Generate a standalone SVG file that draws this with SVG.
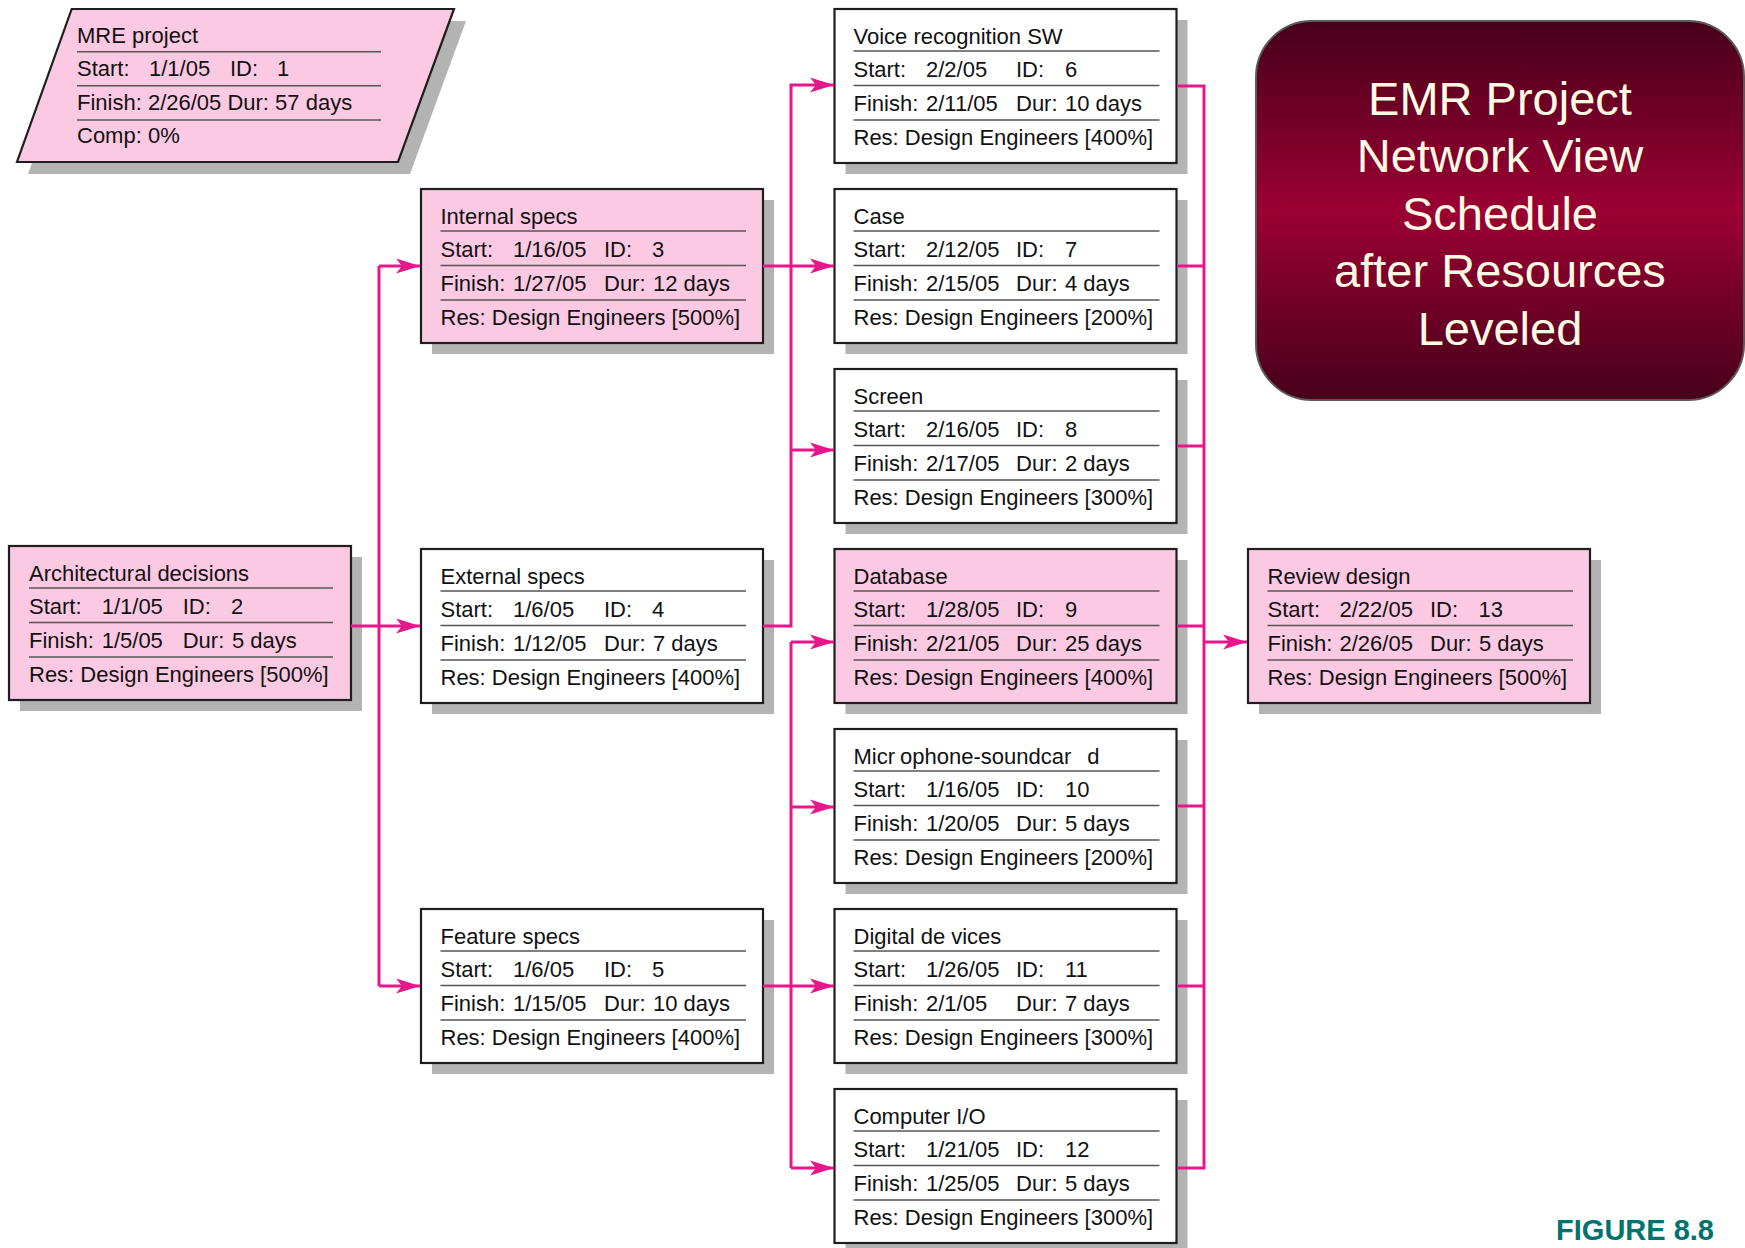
<svg xmlns="http://www.w3.org/2000/svg" width="1745" height="1248" viewBox="0 0 1745 1248">
<style>
.sh{fill:#b3b3b3}
.bx{stroke:#1e1e1e;stroke-width:2.2}
.pk{fill:#fcc9e3}
.wh{fill:#ffffff}
.sp{fill:none;stroke:#555555;stroke-width:1.6}
.t{font-family:"Liberation Sans",Arial,sans-serif;font-size:22px;fill:#111111}
.cn{fill:none;stroke:#e8168a;stroke-width:3}
.ar{fill:none;stroke:#e8168a;stroke-width:3;marker-end:url(#ah)}
.tt{font-family:"Liberation Sans",Arial,sans-serif;font-size:47px;fill:#fffbe3;text-anchor:middle}
.fg{font-family:"Liberation Sans",Arial,sans-serif;font-size:29px;font-weight:bold;fill:#00736f;text-anchor:end}
</style>
<defs>
<marker id="ah" markerWidth="26" markerHeight="18" refX="25" refY="9" orient="auto" markerUnits="userSpaceOnUse">
<path d="M25,9 L1,1.5 L7,9 L1,16.5 Z" fill="#e8168a"/>
</marker>
<linearGradient id="tg" x1="0" y1="0" x2="0" y2="1">
<stop offset="0" stop-color="#47001a"/>
<stop offset="0.5" stop-color="#9b0033"/>
<stop offset="1" stop-color="#47001a"/>
</linearGradient>
</defs>
<rect width="1745" height="1248" fill="#ffffff"/>

<g id="n1">
<polygon class="sh" points="83.7,21 466,21 410,174 28,174"/>
<polygon class="bx pk" points="71.7,9 454,9 398,162 17,162"/>
<path class="sp" d="M77,51.7H381M77,85.7H381M77,120H381"/>
<text class="t" x="77" y="43">MRE project</text>
<text class="t" y="76"><tspan x="77">Start:</tspan><tspan x="149">1/1/05</tspan><tspan x="230">ID:</tspan><tspan x="277">1</tspan></text>
<text class="t" x="77" y="110">Finish: 2/26/05 Dur: 57 days</text>
<text class="t" x="77" y="143">Comp: 0%</text>
</g>

<g id="n2" transform="translate(9,546)">
<rect class="sh" x="11" y="11" width="342" height="154"/>
<rect class="bx pk" x="0" y="0" width="342" height="154"/>
<path class="sp" d="M20,42H324M20,76.5H324M20,111H324"/>
<text class="t" x="20" y="35">Architectural decisions</text>
<text class="t" y="68"><tspan x="20">Start:</tspan><tspan x="92.7">1/1/05</tspan><tspan x="173.7">ID:</tspan><tspan x="222">2</tspan></text>
<text class="t" y="102"><tspan x="20">Finish:</tspan><tspan x="92.7">1/5/05</tspan><tspan x="173.7">Dur:</tspan><tspan x="223">5 days</tspan></text>
<text class="t" x="20" y="136">Res: Design Engineers [500%]</text>
</g>

<g id="n3" transform="translate(421,189)">
<rect class="sh" x="11" y="11" width="342" height="154"/>
<rect class="bx pk" x="0" y="0" width="342" height="154"/>
<path class="sp" d="M19.5,42H325M19.5,76.5H325M19.5,111H325"/>
<text class="t" x="19.5" y="35">Internal specs</text>
<text class="t" y="68"><tspan x="19.5">Start:</tspan><tspan x="92">1/16/05</tspan><tspan x="183">ID:</tspan><tspan x="231">3</tspan></text>
<text class="t" y="102"><tspan x="19.5">Finish:</tspan><tspan x="92">1/27/05</tspan><tspan x="183">Dur:</tspan><tspan x="232">12 days</tspan></text>
<text class="t" x="19.5" y="136">Res: Design Engineers [500%]</text>
</g>

<g id="n4" transform="translate(421,549)">
<rect class="sh" x="11" y="11" width="342" height="154"/>
<rect class="bx wh" x="0" y="0" width="342" height="154"/>
<path class="sp" d="M19.5,42H325M19.5,76.5H325M19.5,111H325"/>
<text class="t" x="19.5" y="35">External specs</text>
<text class="t" y="68"><tspan x="19.5">Start:</tspan><tspan x="92">1/6/05</tspan><tspan x="183">ID:</tspan><tspan x="231">4</tspan></text>
<text class="t" y="102"><tspan x="19.5">Finish:</tspan><tspan x="92">1/12/05</tspan><tspan x="183">Dur:</tspan><tspan x="232">7 days</tspan></text>
<text class="t" x="19.5" y="136">Res: Design Engineers [400%]</text>
</g>

<g id="n5" transform="translate(421,909)">
<rect class="sh" x="11" y="11" width="342" height="154"/>
<rect class="bx wh" x="0" y="0" width="342" height="154"/>
<path class="sp" d="M19.5,42H325M19.5,76.5H325M19.5,111H325"/>
<text class="t" x="19.5" y="35">Feature specs</text>
<text class="t" y="68"><tspan x="19.5">Start:</tspan><tspan x="92">1/6/05</tspan><tspan x="183">ID:</tspan><tspan x="231">5</tspan></text>
<text class="t" y="102"><tspan x="19.5">Finish:</tspan><tspan x="92">1/15/05</tspan><tspan x="183">Dur:</tspan><tspan x="232">10 days</tspan></text>
<text class="t" x="19.5" y="136">Res: Design Engineers [400%]</text>
</g>

<g id="n6" transform="translate(834.5,9)">
<rect class="sh" x="11" y="11" width="342" height="154"/>
<rect class="bx wh" x="0" y="0" width="342" height="154"/>
<path class="sp" d="M19,42H325M19,76.5H325M19,111H325"/>
<text class="t" x="19" y="35">Voice recognition SW</text>
<text class="t" y="68"><tspan x="19">Start:</tspan><tspan x="91.5">2/2/05</tspan><tspan x="181.5">ID:</tspan><tspan x="230.5">6</tspan></text>
<text class="t" y="102"><tspan x="19">Finish:</tspan><tspan x="91.5">2/11/05</tspan><tspan x="181.5">Dur:</tspan><tspan x="230.5">10 days</tspan></text>
<text class="t" x="19" y="136">Res: Design Engineers [400%]</text>
</g>

<g id="n7" transform="translate(834.5,189)">
<rect class="sh" x="11" y="11" width="342" height="154"/>
<rect class="bx wh" x="0" y="0" width="342" height="154"/>
<path class="sp" d="M19,42H325M19,76.5H325M19,111H325"/>
<text class="t" x="19" y="35">Case</text>
<text class="t" y="68"><tspan x="19">Start:</tspan><tspan x="91.5">2/12/05</tspan><tspan x="181.5">ID:</tspan><tspan x="230.5">7</tspan></text>
<text class="t" y="102"><tspan x="19">Finish:</tspan><tspan x="91.5">2/15/05</tspan><tspan x="181.5">Dur:</tspan><tspan x="230.5">4 days</tspan></text>
<text class="t" x="19" y="136">Res: Design Engineers [200%]</text>
</g>

<g id="n8" transform="translate(834.5,369)">
<rect class="sh" x="11" y="11" width="342" height="154"/>
<rect class="bx wh" x="0" y="0" width="342" height="154"/>
<path class="sp" d="M19,42H325M19,76.5H325M19,111H325"/>
<text class="t" x="19" y="35">Screen</text>
<text class="t" y="68"><tspan x="19">Start:</tspan><tspan x="91.5">2/16/05</tspan><tspan x="181.5">ID:</tspan><tspan x="230.5">8</tspan></text>
<text class="t" y="102"><tspan x="19">Finish:</tspan><tspan x="91.5">2/17/05</tspan><tspan x="181.5">Dur:</tspan><tspan x="230.5">2 days</tspan></text>
<text class="t" x="19" y="136">Res: Design Engineers [300%]</text>
</g>

<g id="n9" transform="translate(834.5,549)">
<rect class="sh" x="11" y="11" width="342" height="154"/>
<rect class="bx pk" x="0" y="0" width="342" height="154"/>
<path class="sp" d="M19,42H325M19,76.5H325M19,111H325"/>
<text class="t" x="19" y="35">Database</text>
<text class="t" y="68"><tspan x="19">Start:</tspan><tspan x="91.5">1/28/05</tspan><tspan x="181.5">ID:</tspan><tspan x="230.5">9</tspan></text>
<text class="t" y="102"><tspan x="19">Finish:</tspan><tspan x="91.5">2/21/05</tspan><tspan x="181.5">Dur:</tspan><tspan x="230.5">25 days</tspan></text>
<text class="t" x="19" y="136">Res: Design Engineers [400%]</text>
</g>

<g id="n10" transform="translate(834.5,729)">
<rect class="sh" x="11" y="11" width="342" height="154"/>
<rect class="bx wh" x="0" y="0" width="342" height="154"/>
<path class="sp" d="M19,42H325M19,76.5H325M19,111H325"/>
<text class="t" x="19" y="35">Micr<tspan dx="5">ophone-soundcar</tspan><tspan dx="16">d</tspan></text>
<text class="t" y="68"><tspan x="19">Start:</tspan><tspan x="91.5">1/16/05</tspan><tspan x="181.5">ID:</tspan><tspan x="230.5">10</tspan></text>
<text class="t" y="102"><tspan x="19">Finish:</tspan><tspan x="91.5">1/20/05</tspan><tspan x="181.5">Dur:</tspan><tspan x="230.5">5 days</tspan></text>
<text class="t" x="19" y="136">Res: Design Engineers [200%]</text>
</g>

<g id="n11" transform="translate(834.5,909)">
<rect class="sh" x="11" y="11" width="342" height="154"/>
<rect class="bx wh" x="0" y="0" width="342" height="154"/>
<path class="sp" d="M19,42H325M19,76.5H325M19,111H325"/>
<text class="t" x="19" y="35">Digital de<tspan dx="6">vices</tspan></text>
<text class="t" y="68"><tspan x="19">Start:</tspan><tspan x="91.5">1/26/05</tspan><tspan x="181.5">ID:</tspan><tspan x="230.5">11</tspan></text>
<text class="t" y="102"><tspan x="19">Finish:</tspan><tspan x="91.5">2/1/05</tspan><tspan x="181.5">Dur:</tspan><tspan x="230.5">7 days</tspan></text>
<text class="t" x="19" y="136">Res: Design Engineers [300%]</text>
</g>

<g id="n12" transform="translate(834.5,1089)">
<rect class="sh" x="11" y="11" width="342" height="154"/>
<rect class="bx wh" x="0" y="0" width="342" height="154"/>
<path class="sp" d="M19,42H325M19,76.5H325M19,111H325"/>
<text class="t" x="19" y="35">Computer I/O</text>
<text class="t" y="68"><tspan x="19">Start:</tspan><tspan x="91.5">1/21/05</tspan><tspan x="181.5">ID:</tspan><tspan x="230.5">12</tspan></text>
<text class="t" y="102"><tspan x="19">Finish:</tspan><tspan x="91.5">1/25/05</tspan><tspan x="181.5">Dur:</tspan><tspan x="230.5">5 days</tspan></text>
<text class="t" x="19" y="136">Res: Design Engineers [300%]</text>
</g>

<g id="n13" transform="translate(1248,549)">
<rect class="sh" x="11" y="11" width="342" height="154"/>
<rect class="bx pk" x="0" y="0" width="342" height="154"/>
<path class="sp" d="M19.5,42H325M19.5,76.5H325M19.5,111H325"/>
<text class="t" x="19.5" y="35">Review design</text>
<text class="t" y="68"><tspan x="19.5">Start:</tspan><tspan x="91.5">2/22/05</tspan><tspan x="182">ID:</tspan><tspan x="230.5">13</tspan></text>
<text class="t" y="102"><tspan x="19.5">Finish:</tspan><tspan x="91.5">2/26/05</tspan><tspan x="182">Dur:</tspan><tspan x="231">5 days</tspan></text>
<text class="t" x="19.5" y="136">Res: Design Engineers [500%]</text>
</g>

<g id="connectors">
<path class="ar" d="M351,626H420"/>
<path class="cn" d="M379,266V986"/>
<path class="ar" d="M379,266H420"/>
<path class="ar" d="M379,986H420"/>
<path class="ar" d="M763,266H834"/>
<path class="ar" d="M763,626H791V85H834"/>
<path class="ar" d="M791,450H834"/>
<path class="ar" d="M763,986H834"/>
<path class="cn" d="M791,642V1168"/>
<path class="ar" d="M791,642H834"/>
<path class="ar" d="M791,807H834"/>
<path class="ar" d="M791,1168H834"/>
<path class="cn" d="M1177,86H1204V1168H1177M1177,266H1204M1177,446H1204M1177,626H1204M1177,806H1204M1177,986H1204"/>
<path class="ar" d="M1204,642H1247"/>
</g>

<g id="title">
<rect x="1256" y="21" width="488" height="379" rx="56" ry="56" fill="url(#tg)" stroke="#5a5a5a" stroke-width="2"/>
<text class="tt" x="1500" y="115">EMR Project</text>
<text class="tt" x="1500" y="172">Network View</text>
<text class="tt" x="1500" y="230">Schedule</text>
<text class="tt" x="1500" y="287">after Resources</text>
<text class="tt" x="1500" y="345">Leveled</text>
</g>

<text class="fg" x="1714" y="1240">FIGURE 8.8</text>
</svg>
